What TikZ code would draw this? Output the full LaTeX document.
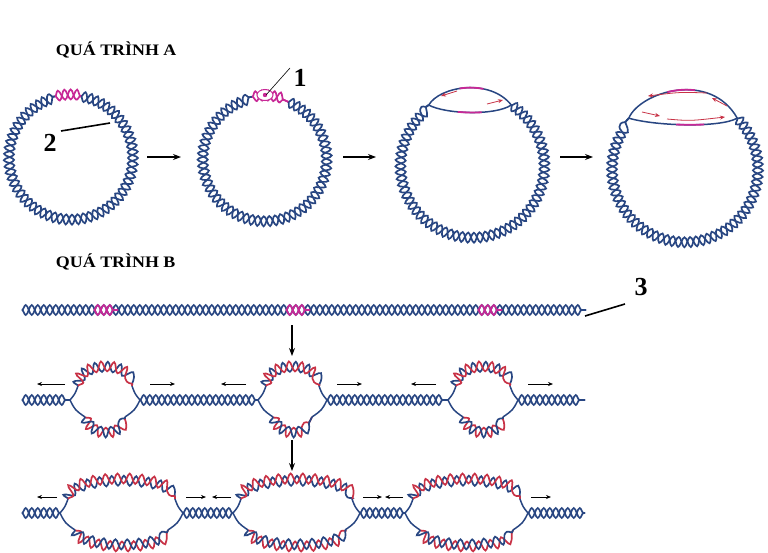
\documentclass[tikz,border=0pt]{standalone}
\usepackage{fontspec}
\setmainfont{Liberation Serif}
\usetikzlibrary{decorations.pathmorphing,arrows.meta}
\definecolor{dna}{RGB}{40,70,130}
\definecolor{mag}{RGB}{200,40,150}
\definecolor{rd}{RGB}{200,50,70}
\tikzset{
 hx/.style={decorate,decoration={snake,amplitude=5pt,segment length=12pt},line width=1.7pt,draw=#1},
 hxm/.style={decorate,decoration={snake,amplitude=5pt,segment length=12pt,mirror},line width=1.7pt,draw=#1},
 conn/.style={line width=1.5pt,draw=dna},
 arr/.style={-{Stealth[length=8pt,width=6pt]},line width=1.1pt},
 sarr/.style={-{Stealth[length=5pt,width=4pt]},line width=0.7pt},
 rarr/.style={-{Stealth[length=5pt,width=4pt]},line width=0.8pt,draw=rd,color=rd},
 ttl/.style={font=\bfseries\fontsize{16}{18}\selectfont,anchor=west,xscale=1.12},
 num/.style={font=\bfseries\fontsize{26}{28}\selectfont},
 lead/.style={line width=1.6pt},
 magpart/.style={draw=mag,line width=1.8pt,dash pattern={on 0pt off #1}}
}
\newcommand\dnah[3]{\draw[hx=#1] #3; \draw[hxm=#2] #3;}
\newcommand\bub[4]{%
 \draw[conn] (#1,#3) .. controls ({#1+5},{#3-6}) .. ({#1+8},{#3-14});
 \dnah{dna}{rd}{({#1+8},{#3-14}) .. controls ({#1+10},{#3-#4-2}) and ({#2-10},{#3-#4-2}) .. ({#2-8},{#3-14})}
 \draw[conn] ({#2-8},{#3-14}) .. controls ({#2-5},{#3-6}) .. (#2,#3);
 \draw[conn] (#1,#3) .. controls ({#1+5},{#3+10}) .. ({#1+15},{#3+17});
 \dnah{rd}{dna}{({#1+15},{#3+17}) .. controls ({#1+22},{#3+#4}) and ({#2-22},{#3+#4}) .. ({#2-15},{#3+17})}
 \draw[conn] ({#2-15},{#3+17}) .. controls ({#2-5},{#3+10}) .. (#2,#3);
}
\begin{document}
\begin{tikzpicture}[x=1pt,y=-1pt]
\useasboundingbox (0,0) rectangle (768,552);
\fill[white] (0,0) rectangle (768,552);
% titles
\node[ttl] (ta) at (52,50) {QUÁ TRÌNH A};
\node[ttl] (tb) at (52,262) {QUÁ TRÌNH B};
% circle 1
\coordinate (c1) at (68,157);
\dnah{dna}{dna}{([shift={(282:62)}]c1) arc[start angle=282,end angle=618,radius=62]}
\dnah{mag}{mag}{([shift={(258:62)}]c1) arc[start angle=258,end angle=282,radius=62]}
\coordinate (l2a) at (110,123);
\node[num] (n2) at (50,143) {2};
\draw[lead] (61,131) -- (l2a);
% circle 2
\coordinate (c2) at (262,158);
\dnah{dna}{dna}{([shift={(295:62)}]c2) arc[start angle=295,end angle=621,radius=62]}
\dnah{mag}{mag}{([shift={(261:62)}]c2) arc[start angle=261,end angle=295,radius=62]}
\draw[mag,line width=1pt,fill=white] (265,95) ellipse[x radius=8,y radius=5.5];
\fill[mag] (265,95) circle[radius=2.2];
\node[num] (n1) at (300,78) {1};
\coordinate (l1a) at (266,95);
\draw[line width=0.6pt] (l1a) -- (290,68);
% circle 3
\coordinate (c3) at (470,164);
\dnah{dna}{dna}{([shift={(305:72)}]c3) arc[start angle=305,end angle=595,radius=72]}
\coordinate (b3l) at ([shift={(235:72)}]c3);
\coordinate (b3r) at ([shift={(305:72)}]c3);
\draw[conn] (b3l) .. controls (440,86) and (490,78) .. (b3r);
\draw[conn] (b3l) .. controls (445,114) and (495,116) .. (b3r);
\draw[magpart={36pt on 24pt off 300pt}] (b3l) .. controls (440,86) and (490,78) .. (b3r);
\draw[magpart={30pt on 24pt off 300pt}] (b3l) .. controls (445,114) and (495,116) .. (b3r);
\draw[rarr] (457,91) -- (441,96);
\draw[rarr] (487,104) -- (503,100);
% circle 4
\coordinate (c4) at (683,167);
\dnah{dna}{dna}{([shift={(318:73)}]c4) arc[start angle=318,end angle=582,radius=73]}
\coordinate (b4l) at ([shift={(222:73)}]c4);
\coordinate (b4r) at ([shift={(318:73)}]c4);
\draw[conn] (b4l) .. controls (640,92) and (710,70) .. (b4r);
\draw[conn] (b4l) .. controls (655,126) and (720,128) .. (b4r);
\draw[magpart={48pt on 28pt off 300pt}] (b4l) .. controls (640,92) and (710,70) .. (b4r);
\draw[magpart={48pt on 28pt off 300pt}] (b4l) .. controls (655,126) and (720,128) .. (b4r);
\draw[rarr] (707,93) .. controls (680,92) .. (648,96);
\draw[rarr] (727,106) -- (712,98);
\draw[rarr] (642,112) -- (660,116);
\draw[rarr] (667,119) .. controls (690,121) .. (725,117);
% arrows A
\coordinate (a1s) at (147,157); \coordinate (a1e) at (181,157);
\coordinate (a2s) at (343,157); \coordinate (a2e) at (376,157);
\coordinate (a3s) at (560,157); \coordinate (a3e) at (593,157);
\draw[arr] (a1s) -- (a1e);
\draw[arr] (a2s) -- (a2e);
\draw[arr] (a3s) -- (a3e);
% process B row 1
\dnah{dna}{dna}{(22,310) -- (586,310)}
\dnah{mag}{mag}{(94,310) -- (118,310)}
\dnah{mag}{mag}{(286,310) -- (310,310)}
\dnah{mag}{mag}{(478,310) -- (502,310)}
\node[num] (n3) at (641,287) {3};
\coordinate (l3a) at (585,316);
\draw[lead] (l3a) -- (625,304);
% down arrows
\coordinate (d1s) at (292,325); \coordinate (d1e) at (292,356);
\coordinate (d2s) at (292,440); \coordinate (d2e) at (292,471);
\draw[arr] (d1s) -- (d1e);
\draw[arr] (d2s) -- (d2e);
% row 2
\dnah{dna}{dna}{(22,400) -- (70,400)}
\dnah{dna}{dna}{(140,400) -- (258,400)}
\dnah{dna}{dna}{(327,400) -- (448,400)}
\dnah{dna}{dna}{(518,400) -- (585,400)}
\bub{70}{140}{400}{34}
\bub{258}{327}{400}{34}
\bub{448}{518}{400}{34}
\foreach \xa/\xb in {65/37,246/221,436/411} \draw[sarr] (\xa,384) -- (\xb,384);
\foreach \xa/\xb in {150/175,337/362,528/553} \draw[sarr] (\xa,384) -- (\xb,384);
% row 3
\dnah{dna}{dna}{(22,513) -- (60,513)}
\dnah{dna}{dna}{(183,513) -- (233,513)}
\dnah{dna}{dna}{(360,513) -- (405,513)}
\dnah{dna}{dna}{(528,513) -- (585,513)}
\bub{60}{183}{513}{34}
\bub{233}{360}{513}{34}
\bub{405}{528}{513}{34}
\foreach \xa/\xb in {57/37,231/212,403/385} \draw[sarr] (\xa,497) -- (\xb,497);
\foreach \xa/\xb in {186/206,363/382,531/551} \draw[sarr] (\xa,497) -- (\xb,497);
\end{tikzpicture}
\end{document}
